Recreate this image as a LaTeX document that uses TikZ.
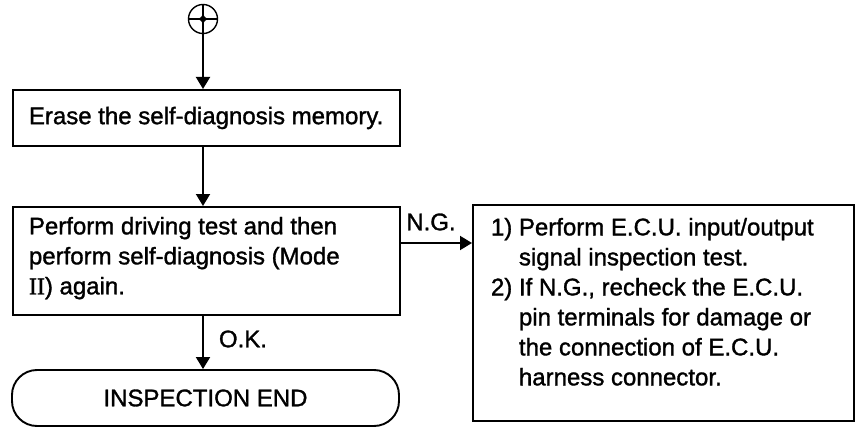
\documentclass[tikz,border=0pt]{standalone}
\usepackage{fontspec}
\setmainfont{Liberation Sans}[FakeBold=1.3]
\newfontfamily\numeralfont{Liberation Serif}[FakeBold=1.3]
\usetikzlibrary{arrows.meta,calc}

\begin{document}
\begin{tikzpicture}[x=1pt, y=-1pt, line width=1.9pt,
    every node/.style={font=\fontsize{24}{30}\selectfont},
    box/.style={draw, rectangle, inner sep=0pt, minimum width=387pt},
    frame/.style={draw, rectangle, inner sep=0pt},
    txt/.style={align=left, inner sep=0pt, anchor=north west},
    flow/.style={-{Triangle[width=14pt,length=12pt]}}]

  \useasboundingbox (0,0) rectangle (857,428);

  % --- Parameter ---
  \def\leftinset{16}   % Textabstand links in den Kästen
  \def\nglevel{37}     % Höhe des N.G.-Pfeils unter Oberkante

  % --- Startsymbol ---
  \node[circle, draw, line width=1.4pt, minimum size=29pt, inner sep=0pt] (start) at (203,19) {};
  \draw[line width=1.1pt] (start.north) -- (start.south) (start.west) -- (start.east);
  \fill (start.north) .. controls (start.center) .. (start.east)
        .. controls (start.center) .. (start.south)
        .. controls (start.center) .. (start.west)
        .. controls (start.center) .. (start.north) -- cycle;

  % --- Kästen links ---
  \node[box, minimum height=56pt, anchor=north west] (erase) at (12,89) {};
  \node[txt, anchor=west] (erasetext) at ($(erase.west)+(\leftinset,0)$)
    {Erase the self-diagnosis memory.};

  \node[frame, minimum width=387pt, minimum height=108pt, anchor=north west] (drive) at (12,206) {};
  \node[txt] (drivetext) at ($(drive.north west)+(\leftinset,10)$)
    {Perform driving test and then\\
     perform self-diagnosis (Mode\\
     {\numeralfont II}) again.};

  \node[box, rounded corners=25pt, minimum height=56pt] (finish) at (205.5,398) {INSPECTION END};

  % --- Kasten rechts ---
  \node[frame, minimum width=381pt, minimum height=216pt, anchor=north west] (check) at (472,204) {};
  \node[txt] (checktext) at ($(check.north west)+(18,13)$)
    {1) Perform E.C.U. input/output\\
     \phantom{1)}\ signal inspection test.\\
     2) If N.G., recheck the E.C.U.\\
     \phantom{2)}\ pin terminals for damage or\\
     \phantom{2)}\ the connection of E.C.U.\\
     \phantom{2)}\ harness connector.};

  % --- Pfeile ---
  \draw[flow] (start.south) -- (start.south |- erase.north);
  \draw[flow] (start.south |- erase.south) -- (start.south |- drive.north);
  \draw[flow] (start.south |- drive.south) -- (start.south |- finish.north);
  \coordinate (ng) at ($(drive.north east)+(0,\nglevel)$);
  \draw[flow] (ng) -- (ng -| check.west);

  % --- Beschriftungen ---
  \node (ngtext) at (431,222) {N.G.};
  \node[anchor=west, inner sep=0pt] (oktext) at (218,339) {O.K.};

\end{tikzpicture}
\end{document}
